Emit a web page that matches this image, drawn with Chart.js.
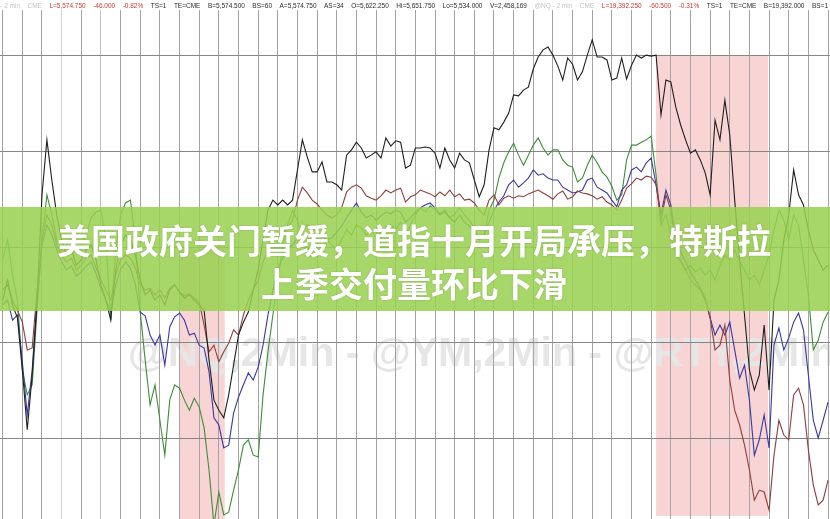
<!DOCTYPE html>
<html>
<head>
<meta charset="utf-8">
<script src="https://cdn.jsdelivr.net/npm/chart.js@4.4.1/dist/chart.umd.min.js"></script>
<style>
  html, body { margin: 0; padding: 0; background: #fff; overflow: hidden; }
  #wrap { width: 830px; height: 519px; }
</style>
</head>
<body>
<div id="wrap"><canvas id="chart" width="830" height="519"></canvas></div>
<script>
// one sample every 5 minutes, a vertical grid line every 20 minutes
const sampleMinutes = 5;

// % change, in basis points
const esLine = [
  -11.1,-6.9,-12.1,-14.8,-25.7,-38.2,-26.8,-11.1,10.9,22.4,
  14.0,6.7,1.5,-1.7,-0.6,-3.8,-2.7,-0.6,0.4,-2.7,
  -7.9,-11.1,-15.3,-4.8,0.4,2.5,1.5,-1.7,-6.9,-10.0,
  -9.0,-11.1,-10.0,-12.1,-9.0,-7.9,-9.4,-10.7,-10.0,-11.1,
  -12.1,-13.2,-23.6,-32.0,-34.1,-35.7,-30.9,-24.7,-18.4,-15.7,
  -13.6,-9.0,-4.8,1.5,7.7,9.8,8.8,9.8,8.8,9.8,
  16.1,22.4,18.8,15.7,15.7,17.8,13.6,13.6,13.0,11.9,
  19.2,20.3,21.9,20.7,18.6,19.2,19.9,18.6,22.8,21.1,
  22.2,21.9,16.5,17.1,20.7,20.7,20.9,20.7,19.6,16.5,
  20.7,18.2,16.5,19.6,18.2,17.6,14.0,10.5,13.0,20.3,
  24.9,24.5,26.1,28.0,31.8,31.6,32.8,33.4,37.2,39.7,
  41.2,41.8,40.1,37.8,34.9,39.5,38.2,34.9,36.6,40.1,
  43.3,39.7,39.7,39.1,34.9,35.3,39.5,35.1,38.0,40.1,
  39.5,40.1,39.9,40.1,27.6,34.9,34.5,29.3,25.5,22.4,
  19.6,20.3,18.2,15.5,10.9,26.5,22.4,30.7,23.4,9.8,
  -2.7,-14.2,-25.7,-29.9,-26.8,-16.3,-29.9,-11.1,-6.9,1.5,
  6.7,16.1,10.9,8.8,3.6,-0.6,-2.7,-4.8,-3.8
];
const ymLine = [
  -9.0,-7.9,-11.1,-13.2,-15.7,-21.5,-21.1,-9.0,1.5,6.7,
  4.6,0.4,-1.7,-3.1,-2.3,-4.8,-3.8,-2.3,-1.7,-4.4,
  -6.9,-9.0,-11.1,-5.9,-2.7,-1.7,-2.3,-4.4,-7.9,-9.0,
  -8.6,-10.0,-9.0,-10.7,-8.6,-7.9,-9.4,-10.2,-9.8,-10.7,
  -11.5,-16.3,-21.9,-20.5,-24.0,-21.9,-20.1,-17.3,-18.4,-14.2,
  -11.1,-9.0,-6.9,-3.1,-0.6,1.5,2.5,3.1,4.0,5.6,
  9.8,12.5,11.3,9.8,9.0,7.7,6.7,6.1,6.7,8.2,
  11.5,12.5,13.0,12.3,10.7,10.2,9.8,10.7,11.9,11.3,
  11.9,12.3,9.4,10.5,10.9,11.9,11.5,11.1,10.5,11.5,
  10.7,11.9,10.5,11.1,9.8,10.0,9.2,7.7,6.7,9.8,
  10.9,8.8,10.2,10.7,10.2,10.7,10.5,11.1,11.5,11.9,
  11.3,10.7,10.0,11.1,11.7,10.0,10.5,11.7,11.3,11.1,
  10.7,10.0,10.5,9.4,8.8,7.7,9.8,12.3,13.2,14.4,
  14.0,14.8,14.6,13.0,5.6,10.9,7.7,0.4,-2.7,-4.8,
  -6.9,-7.9,-9.0,-11.1,-14.8,-21.5,-20.5,-16.3,-27.8,-34.1,
  -37.2,-41.4,-46.6,-52.9,-50.8,-51.2,-55.0,-43.5,-36.2,-39.3,
  -40.3,-30.9,-29.5,-33.0,-42.4,-49.7,-53.9,-52.9,-48.7
];
const nqLine = [
  -12.1,-11.1,-15.3,-14.2,-24.0,-35.1,-25.7,-11.1,0.4,4.6,
  2.5,-0.6,-3.1,-4.8,-4.0,-6.1,-5.2,-4.0,-3.1,-5.6,
  -8.6,-11.1,-13.6,-7.9,-4.8,-3.1,-4.4,-7.9,-13.6,-14.4,
  -18.4,-20.5,-18.4,-24.7,-16.7,-14.6,-13.8,-15.3,-18.4,-18.0,
  -20.5,-21.1,-26.1,-35.7,-37.2,-42.0,-41.4,-34.7,-31.4,-28.8,
  -26.3,-27.8,-25.1,-20.5,-14.2,-9.0,-4.8,-2.3,-0.6,0.4,
  1.9,3.6,4.6,4.0,3.1,2.3,1.5,1.9,3.1,4.4,
  6.1,7.7,9.2,7.3,6.1,6.7,5.6,6.5,7.3,6.9,
  7.7,7.3,5.2,6.1,7.3,8.2,8.8,9.2,8.2,6.9,
  7.7,6.1,5.2,6.7,5.2,4.4,3.1,1.5,2.5,5.2,
  7.7,9.4,10.7,13.0,14.0,12.5,13.4,14.4,16.1,15.0,
  15.3,14.4,14.0,14.0,12.5,11.9,11.3,11.5,11.9,14.0,
  14.4,12.5,11.9,11.3,9.8,8.4,11.9,13.0,16.1,16.7,
  15.7,17.6,18.6,13.0,6.7,11.9,8.8,1.9,-1.0,-3.1,
  -5.2,-6.9,-8.6,-10.7,-14.8,-18.4,-16.3,-18.4,-15.7,-21.5,
  -27.4,-24.7,-32.0,-43.5,-40.3,-35.1,-42.0,-20.5,-16.9,-21.5,
  -19.0,-15.7,-13.8,-17.3,-26.8,-36.2,-39.9,-36.2,-32.4
];
const rtyLine = [
  -2.7,1.5,-5.9,-11.1,-25.7,-30.9,-28.8,-13.2,1.5,10.9,
  6.7,1.5,-0.6,0.4,1.5,-0.6,0.4,2.5,6.1,7.3,
  7.7,1.5,-15.3,-0.6,6.7,9.2,9.8,1.5,-13.6,-23.6,
  -33.0,-28.8,-36.2,-43.5,-32.0,-28.8,-29.5,-32.0,-34.1,-31.6,
  -33.4,-37.8,-46.6,-58.1,-51.2,-56.0,-55.4,-50.8,-46.6,-41.4,
  -40.3,-43.5,-43.9,-30.9,-21.9,-14.2,-6.9,0.4,4.6,7.7,
  5.6,1.5,-0.6,0.4,-1.7,-0.6,1.5,0.4,-0.6,1.5,
  3.6,2.5,4.6,4.0,2.5,3.6,1.9,3.1,4.0,4.6,
  3.6,5.2,2.5,4.6,6.7,8.2,7.3,8.6,7.7,6.7,
  7.3,6.1,6.9,8.2,6.7,5.6,4.0,1.5,2.5,7.7,
  9.8,14.4,17.6,19.9,21.7,19.2,17.1,19.2,21.3,22.8,
  20.7,19.2,20.3,20.3,18.2,17.1,16.7,13.6,14.4,17.1,
  19.2,17.6,15.7,14.6,12.7,9.8,10.9,18.2,21.3,21.3,
  21.9,22.4,23.2,15.0,4.6,6.7,2.5,-1.7,-3.1,-4.8,
  -3.8,-5.2,-4.4,-5.9,-4.8,-6.9,-3.8,-1.7,-2.7,-0.6,
  -3.1,-4.8,-6.9,-5.9,-7.9,-4.8,-1.7,3.6,7.7,5.6,
  1.5,6.7,4.6,-2.7,-10.0,-21.5,-19.5,-15.7,-13.6
];

// shaded sessions: [from minute, to minute, top bp, bottom bp]
const shadedSpans = [
  [180, 226, 0, -57],
  [665, 779, 40, -56.2]
];

const headerText = ['@ES - 2 min', 'CME', 'L=5,574.750', '-46.000', '-0.82%', 'TS=1', 'TE=CME',
  'B=5,574.500', 'BS=60', 'A=5,574.750', 'AS=34', 'O=5,622.250', 'Hi=5,651.750', 'Lo=5,534.000',
  'V=2,458,169', '@NQ - 2 min', 'CME', 'L=19,392.250', '-60.500', '-0.31%', 'TS=1', 'TE=CME',
  'B=19,392.000', 'BS=1'];
const headerTone = ['muted', 'muted', 'down', 'down', 'down', 'plain', 'plain', 'plain', 'plain',
  'plain', 'plain', 'plain', 'plain', 'plain', 'plain', 'muted', 'muted', 'down', 'down', 'down',
  'plain', 'plain', 'plain', 'plain'];
const toneColor = { muted: '#c4c4c4', down: '#cf3434', plain: '#2a2a2a' };

const watermark = '@NQ,2Min - @YM,2Min - @RTY,2Min';
const headline = ['美国政府关门暂缓，道指十月开局承压，特斯拉', '上季交付量环比下滑'];

const toPoints = arr => arr.map((v, i) => ({ x: i * sampleMinutes, y: v }));

const backdrop = {
  id: 'backdrop',
  beforeDraw(chart) {
    const { ctx, width, height } = chart;
    const { x, y } = chart.scales;
    ctx.save();
    ctx.fillStyle = '#fff';
    ctx.fillRect(0, 0, width, height);
    ctx.fillStyle = '#f9d4d4';
    shadedSpans.forEach(s => {
      const x0 = x.getPixelForValue(s[0]);
      const x1 = x.getPixelForValue(s[1]);
      const y0 = y.getPixelForValue(s[2]);
      const y1 = y.getPixelForValue(s[3]);
      ctx.fillRect(x0, y0, x1 - x0, y1 - y0);
    });
    ctx.fillStyle = '#e6e6e6';
    ctx.font = 'bold 41px "Liberation Sans", Arial, sans-serif';
    ctx.textBaseline = 'alphabetic';
    ctx.fillText(watermark, 128, 366);
    ctx.restore();
  },
  afterDraw(chart) {
    const { ctx, width } = chart;
    ctx.save();
    // headline banner
    ctx.fillStyle = 'rgba(153, 209, 80, 0.86)';
    ctx.fillRect(0, 207, width, 104);
    ctx.fillStyle = '#fff';
    ctx.font = 'bold 34px "Noto Sans CJK SC", sans-serif';
    ctx.textAlign = 'center';
    ctx.textBaseline = 'middle';
    ctx.shadowColor = 'rgba(0,0,0,0.18)';
    ctx.shadowBlur = 2;
    ctx.fillText(headline[0], 414, 241);
    ctx.fillText(headline[1], 414, 284);
    ctx.shadowBlur = 0;
    ctx.shadowColor = 'transparent';

    // quote strip at the top, narrow face squeezed like the terminal's
    ctx.fillStyle = '#fff';
    ctx.fillRect(0, 0, width, 10);
    ctx.font = '8px "Liberation Sans", Arial, sans-serif';
    ctx.textAlign = 'left';
    ctx.textBaseline = 'middle';
    const gap = 7.5;
    const widths = headerText.map(t => ctx.measureText(t).width);
    const total = widths.reduce((a, b) => a + b, 0);
    const sx = (808 - gap * (headerText.length - 1)) / (total - widths[0]);
    let px = 20 - widths[0] * sx;
    headerText.forEach((t, i) => {
      ctx.save();
      ctx.translate(px, 5.5);
      ctx.scale(sx, 1);
      ctx.fillStyle = toneColor[headerTone[i]];
      ctx.fillText(t, 0, 0);
      ctx.restore();
      px += widths[i] * sx + gap;
    });
    ctx.restore();
  }
};

const ctx = document.getElementById('chart').getContext('2d');
new Chart(ctx, {
  type: 'line',
  data: {
    datasets: [
      { label: '@ES', data: toPoints(esLine), borderColor: '#1e1e1e' },
      { label: '@YM', data: toPoints(ymLine), borderColor: '#8e3d3d' },
      { label: '@NQ', data: toPoints(nqLine), borderColor: '#3838a6' },
      { label: '@RTY', data: toPoints(rtyLine), borderColor: '#3f8c3a' }
    ]
  },
  options: {
    responsive: false,
    animation: false,
    devicePixelRatio: 1,
    events: [],
    layout: { padding: { top: 10, left: 0, right: 0, bottom: 0 } },
    elements: {
      line: { borderWidth: 1.1, tension: 0, fill: false },
      point: { radius: 0 }
    },
    plugins: { legend: { display: false }, tooltip: { enabled: false } },
    scales: {
      x: {
        type: 'linear',
        min: -2.74,
        max: 842,
        ticks: { display: false, stepSize: 20, maxTicksLimit: 100, includeBounds: false },
        grid: {
          drawTicks: false,
          lineWidth: 1,
          color: c => (c.tick.value === 60 ? '#d2d2d2' : c.tick.value === 100 ? '#c0c0c0' : '#a4a4a4')
        },
        border: { display: false }
      },
      y: {
        type: 'linear',
        min: -56.84,
        max: 49.53,
        ticks: { display: false, stepSize: 20, includeBounds: false },
        grid: { drawTicks: false, lineWidth: 1, color: '#858585' },
        border: { display: false }
      }
    }
  },
  plugins: [backdrop]
});
</script>
</body>
</html>
